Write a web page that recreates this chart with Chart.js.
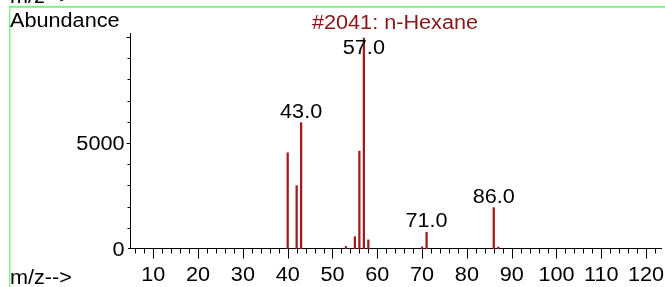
<!DOCTYPE html>
<html><head><meta charset="utf-8">
<script src="https://cdn.jsdelivr.net/npm/chart.js@4"></script>
<style>html,body{margin:0;padding:0;background:#fff;overflow:hidden}canvas{display:block}</style>
</head><body>
<canvas id="c" width="665" height="287"></canvas>
<script>
// ---- data ----
const mz        = [40, 42, 43, 53, 55, 56, 57, 58, 70, 71, 86, 87];
const abundance = [4540, 2990, 5960, 120, 580, 4620, 9950, 430, 100, 790, 1950, 90];
const labeledPeaks = [43, 57, 71, 86];
const xTickLabels = [10, 20, 30, 40, 50, 60, 70, 80, 90, 100, 110, 120];
const yTickLabels = [0, 5000];
const titleText = '#2041: n-Hexane';

const FONT = '19.5px "Liberation Sans", Arial, sans-serif';
const SX = 1.11;
const PEAK = '#a01c1c';
const TITLE = '#8b1414';

function txt(ctx, s, x, y, align, color) {
  ctx.save();
  ctx.translate(x, y);
  ctx.scale(SX, 1);
  ctx.font = FONT;
  ctx.textAlign = align;
  ctx.textBaseline = 'alphabetic';
  ctx.fillStyle = color;
  ctx.fillText(s, 0, 0);
  ctx.restore();
}

const decor = {
  id: 'decor',
  beforeDatasetsDraw(chart) {
    const ctx = chart.ctx, xs = chart.scales.x, ys = chart.scales.y;
    const a = chart.chartArea;
    ctx.save();
    // green frame
    ctx.fillStyle = '#80f080';
    ctx.fillRect(9, 5.8, 656, 2);
    ctx.fillRect(9, 5.8, 1.4, 282);
    // axes
    ctx.strokeStyle = '#000';
    ctx.lineWidth = 1;
    const y0 = ys.getPixelForValue(0) - 0.5;
    ctx.beginPath();
    ctx.moveTo(a.left - 2, y0); ctx.lineTo(a.right, y0);
    ctx.moveTo(a.left + 0.5, a.top); ctx.lineTo(a.left + 0.5, y0);
    // x ticks every 2
    for (let v = 6; v <= 122; v += 2) {
      const px = Math.round(xs.getPixelForValue(v)) + 0.5;
      const len = (v % 10 === 0) ? 10 : 5;
      ctx.moveTo(px, y0); ctx.lineTo(px, y0 + len);
    }
    // y ticks every 1000
    for (let v = 1000; v <= 10000; v += 1000) {
      const py = Math.round(ys.getPixelForValue(v)) + 0.5;
      const len = (v % 5000 === 0) ? 4 : 3;
      ctx.moveTo(a.left + 0.5, py); ctx.lineTo(a.left + 0.5 - len, py);
    }
    ctx.stroke();
    ctx.restore();
  },
  afterDraw(chart) {
    const ctx = chart.ctx, xs = chart.scales.x, ys = chart.scales.y;
    // texts
    txt(ctx, 'm/z-->', 10, 3.3, 'left', '#000');
    txt(ctx, 'Abundance', 10, 27, 'left', '#000');
    txt(ctx, titleText, 395, 28.5, 'center', TITLE);
    txt(ctx, 'm/z-->', 10, 284, 'left', '#000');
    xTickLabels.forEach(v => txt(ctx, String(v), xs.getPixelForValue(v), 281, 'center', '#000'));
    yTickLabels.forEach(v => txt(ctx, String(v), 124.5, ys.getPixelForValue(v) + 6.8, 'right', '#000'));
    labeledPeaks.forEach(m => {
      const i = mz.indexOf(m);
      const top = ys.getPixelForValue(abundance[i]);
      const base = Math.max(top - 5, 54);
      txt(ctx, m.toFixed(1), xs.getPixelForValue(m), base, 'center', '#000');
    });
  }
};

new Chart(document.getElementById('c'), {
  type: 'bar',
  data: {
    datasets: [{
      data: mz.map((m, i) => ({ x: m, y: abundance[i] })),
      backgroundColor: PEAK,
      borderWidth: 0,
      barThickness: 1.6,
      grouped: false
    }]
  },
  options: {
    responsive: false,
    animation: false,
    events: [],
    layout: { padding: { left: 130, right: 3, top: 33, bottom: 38 } },
    plugins: { legend: { display: false }, tooltip: { enabled: false } },
    scales: {
      x: { type: 'linear', min: 4.8, max: 123.55, offset: false, display: false },
      y: { type: 'linear', min: 0, max: 10189, display: false }
    }
  },
  plugins: [decor]
});
</script>
</body></html>
